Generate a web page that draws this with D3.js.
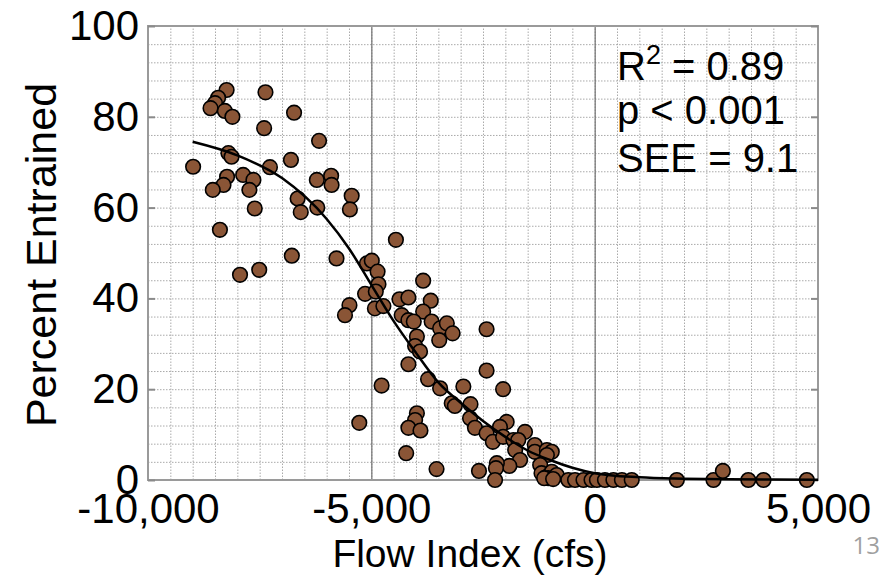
<!DOCTYPE html>
<html>
<head>
<meta charset="utf-8">
<script src="https://cdn.jsdelivr.net/npm/d3@7"></script>
<style>
  body { margin: 0; background: #fff; }
  svg { display: block; font-family: "Liberation Sans", Arial, sans-serif; }
</style>
</head>
<body>
<svg class="graph-container" width="883" height="577"></svg>
<script>
// observed points (flow index in cfs, percent entrained)
var flowIndex = [
  -8240, -8430, -8500, -8600, -8280, -8110, -7370, -6730, -7400, -6170,
  -8200, -8130, -8990, -6800, -7270, -8230, -8310, -8550, -7870, -7640,
  -7730, -6220, -5900, -5890, -7610, -6650, -6580, -6210, -5440, -5480,
  -8390, -6780, -5780, -7940, -7510,
  -4450, -5100, -4990, -4860, -4840, -5140, -4900, -5490, -5590, -4920,
  -4730, -3840, -4370, -4170, -3670, -3840, -4320, -4170, -4050, -3650,
  -3460, -3310, -3180, -3480, -3980, -4020, -3910, -4170, -4770, -3730,
  -3460, -2940, -2420, -2420, -5270, -2050,
  -3200, -3130, -2780, -3980, -4020, -4170, -3900, -2790, -2680, -2420,
  -2280, -1970, -2120, -2050, -1820, -1560, -1710, -1780, -1670, -1910,
  -2190, -2210, -2230, -2590, -3540, -4220, -1340, -1340, -1070, -960,
  -1070, -1220, -1190, -1070, -960, -1040, -850, -1130, -930,
  -590, -440, -250, -70, 50, 230, 420, 610, 830, 1840,
  2660, 2870, 3440, 3780, 4750
];
var percentEntrained = [
  85.9, 84.2, 83.0, 81.9, 81.3, 80.0, 85.4, 80.9, 77.5, 74.7,
  72.0, 71.2, 69.0, 70.5, 68.9, 66.8, 65.0, 63.9, 67.2, 66.1,
  63.9, 66.1, 67.0, 65.0, 59.8, 62.0, 59.0, 60.0, 62.6, 59.6,
  55.1, 49.4, 48.8, 45.2, 46.3,
  52.9, 47.7, 48.3, 45.9, 43.1, 41.0, 41.5, 38.5, 36.3, 37.8,
  38.3, 43.9, 39.8, 40.2, 39.5, 37.1, 36.3, 35.2, 34.9, 34.9,
  33.4, 34.5, 32.3, 30.8, 31.6, 29.5, 28.3, 25.5, 20.8, 22.2,
  20.2, 20.6, 33.2, 24.1, 12.6, 20.0,
  16.9, 16.3, 16.7, 14.7, 13.2, 11.5, 10.9, 13.6, 11.5, 10.3,
  8.4, 12.8, 11.7, 9.5, 8.8, 10.6, 8.8, 6.6, 4.4, 3.1,
  3.7, 2.6, 0, 2.0, 2.4, 5.9, 7.7, 6.2, 6.6, 6.2,
  5.5, 3.3, 1.5, 0.7, 1.8, 0.4, 1.1, 0.4, 0.2,
  0, 0, 0, 0, 0, 0, 0, 0, 0, 0,
  0, 2.0, 0, 0, 0
];

// fitted curve
var curveFlow = [-9000, -8000, -7000, -6000, -5500, -5000, -4500, -4000, -3500, -3000,
                 -2500, -2000, -1500, -1000, -500, 0, 1000, 2000, 3000, 5000];
var curveFit = [74.5, 71.5, 66.5, 57.5, 51, 43, 35, 28, 21.5, 17,
                13, 9.5, 6.5, 4.4, 2.7, 1.5, 0.6, 0.3, 0.15, 0.05];

var yTicks = [0, 20, 40, 60, 80, 100];
var xTicks = [-10000, -5000, 0, 5000];
var xTickLabels = ["-10,000", "-5,000", "0", "5,000"];
var statLines = ["R", "p < 0.001", "SEE = 9.1"];

var svg = d3.select(".graph-container");
var plotL = 148, plotR = 818, plotT = 26, plotB = 480;
var w = plotR - plotL, h = plotB - plotT;

var g = svg.append("g").attr("transform", "translate(" + plotL + "," + plotT + ")");

var x = d3.scaleLinear().domain([-10000, 5000]).range([0, w]);
var y = d3.scaleLinear().domain([0, 100]).range([h, 0]);

// dotted minor grid
g.append("g")
  .attr("transform", "translate(0," + h + ")")
  .call(d3.axisBottom(x).tickValues(d3.range(-9500, 5000, 500)).tickSize(-h).tickFormat(""))
  .call(function(a){ a.select(".domain").remove(); })
  .selectAll("line")
  .attr("stroke", "#aaa")
  .attr("stroke-dasharray", "1.5,1.5");

g.append("g")
  .call(d3.axisLeft(y).tickValues(d3.range(4, 100, 4)).tickSize(-w).tickFormat(""))
  .call(function(a){ a.select(".domain").remove(); })
  .selectAll("line")
  .attr("stroke", "#aaa")
  .attr("stroke-dasharray", "1.5,1.5");

// solid major verticals
g.append("g")
  .attr("transform", "translate(0," + h + ")")
  .call(d3.axisBottom(x).tickValues([-5000, 0]).tickSize(-h).tickFormat(""))
  .call(function(a){ a.select(".domain").remove(); })
  .selectAll("line")
  .attr("stroke", "#707070")
  .attr("stroke-width", 1.2);

// frame
g.append("rect")
  .attr("width", w).attr("height", h)
  .attr("fill", "none")
  .attr("stroke", "#9a9a9a")
  .attr("stroke-width", 2);

// y axis, labels + inward ticks on both sides
var yAxis = g.append("g")
  .call(d3.axisLeft(y).tickValues(yTicks).tickSize(-7).tickPadding(9));
yAxis.select(".domain").remove();
yAxis.selectAll("line").attr("stroke", "#8a8a8a").attr("stroke-width", 2);
yAxis.selectAll("text")
  .attr("fill", "#000")
  .style("font-size", "42px");

g.append("g")
  .attr("transform", "translate(" + w + ",0)")
  .call(d3.axisRight(y).tickValues(yTicks).tickSize(-7).tickFormat(""))
  .call(function(a){ a.select(".domain").remove(); })
  .selectAll("line").attr("stroke", "#8a8a8a").attr("stroke-width", 2);

var xAxis = g.append("g")
  .attr("transform", "translate(0," + h + ")")
  .call(d3.axisBottom(x).tickValues(xTicks).tickSize(0).tickPadding(11)
    .tickFormat(function(d, i){ return xTickLabels[i]; }));
xAxis.select(".domain").remove();
xAxis.selectAll("text")
  .attr("fill", "#000")
  .attr("dy", "0.76em")
  .style("font-size", "42px");

// points
var pts = flowIndex.map(function(d, i){ return {x: d, y: percentEntrained[i]}; });
g.selectAll("circle.pt")
  .data(pts)
  .enter().append("circle")
  .attr("class", "pt")
  .attr("cx", function(d){ return x(d.x); })
  .attr("cy", function(d){ return y(d.y); })
  .attr("r", 7.3)
  .attr("fill", "#8a5536")
  .attr("stroke", "#000")
  .attr("stroke-width", 1.6);

// fitted line
var line = d3.line()
  .x(function(d, i){ return x(curveFlow[i]); })
  .y(function(d){ return y(d); })
  .curve(d3.curveMonotoneX);

g.append("path")
  .datum(curveFit)
  .attr("fill", "none")
  .attr("stroke", "#000")
  .attr("stroke-width", 2.5)
  .attr("d", line);

// stats box text
var st = svg.append("g").style("font-size", "40px").attr("fill", "#000");
var t0 = st.append("text").attr("x", 617).attr("y", 80);
t0.append("tspan").text(statLines[0]);
t0.append("tspan").attr("dy", -16).style("font-size", "27px").text("2");
t0.append("tspan").attr("dy", 16).text(" = 0.89");
st.append("text").attr("x", 617).attr("y", 124).text(statLines[1]);
st.append("text").attr("x", 617).attr("y", 172).text(statLines[2]);

// axis titles
svg.append("text")
  .attr("x", 470).attr("y", 567)
  .attr("text-anchor", "middle")
  .style("font-size", "39px")
  .text("Flow Index (cfs)");

svg.append("text")
  .attr("transform", "translate(56,255) rotate(-90)")
  .attr("text-anchor", "middle")
  .style("font-size", "43px")
  .text("Percent Entrained");

// slide number
svg.append("text")
  .attr("x", 880).attr("y", 554)
  .attr("text-anchor", "end")
  .attr("fill", "#a0a0a0")
  .style("font-family", "'Open Sans', sans-serif")
  .style("font-size", "24px")
  .text("13");
</script>
</body>
</html>
